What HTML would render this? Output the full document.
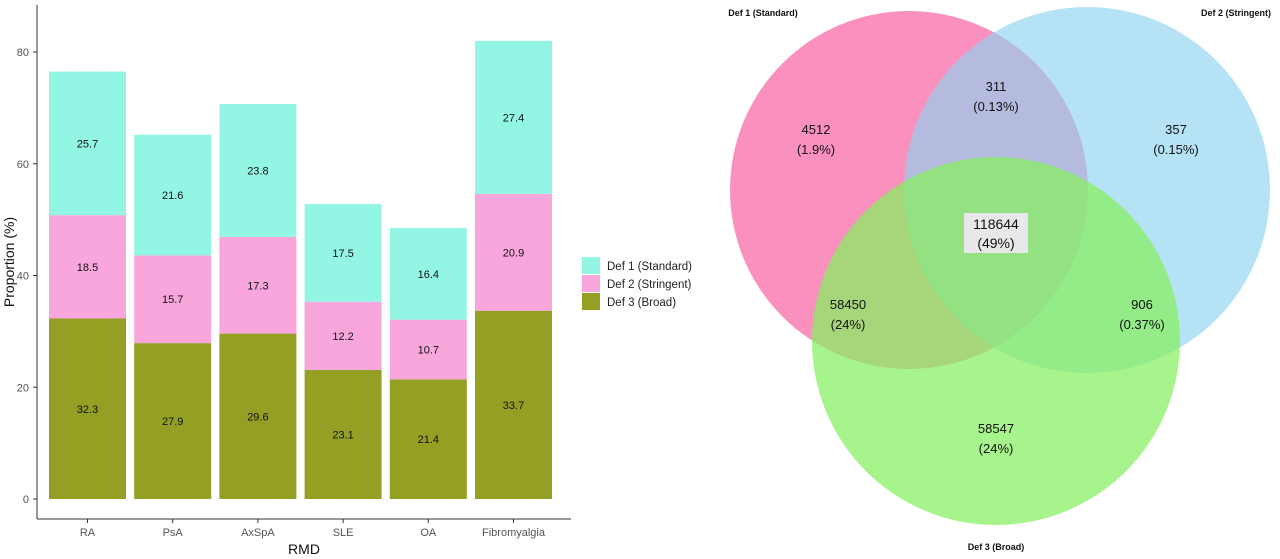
<!DOCTYPE html>
<html><head><meta charset="utf-8"><style>
body{margin:0;background:#fff;width:1280px;height:554px;overflow:hidden;font-family:"Liberation Sans",sans-serif}
</style></head><body>
<svg width="1280" height="554" viewBox="0 0 1280 554">
<g id="bar-chart"></g>
<g id="legend">
<rect x="582" y="257" width="18" height="17" fill="#93f5e4"/>
<rect x="582" y="275" width="18" height="17" fill="#f8a6dc"/>
<rect x="582" y="293" width="18" height="17" fill="#93a024"/>
<text x="607" y="270" font-size="11.5" fill="#222">Def 1 (Standard)</text>
<text x="607" y="288" font-size="11.5" fill="#222">Def 2 (Stringent)</text>
<text x="607" y="306" font-size="11.5" fill="#222">Def 3 (Broad)</text>
</g>
<g>
<circle cx="909" cy="190" r="179" fill="#f7559a" fill-opacity="0.65"/>
<circle cx="1087" cy="190" r="183" fill="#8fd2ef" fill-opacity="0.65"/>
<circle cx="996" cy="341" r="184" fill="#86f060" fill-opacity="0.72"/>
<g font-size="13" fill="#111" text-anchor="middle">
<text x="763" y="16" font-size="9" font-weight="bold">Def 1 (Standard)</text>
<text x="1236" y="16" font-size="9" font-weight="bold">Def 2 (Stringent)</text>
<text x="996" y="550" font-size="9" font-weight="bold">Def 3 (Broad)</text>
<text x="816" y="134">4512</text>
<text x="816" y="154">(1.9%)</text>
<text x="996" y="91">311</text>
<text x="996" y="111">(0.13%)</text>
<text x="1176" y="134">357</text>
<text x="1176" y="154">(0.15%)</text>
<rect x="964" y="213" width="64" height="40" fill="#e8e8e8"/>
<text x="996" y="229" font-size="14">118644</text>
<text x="996" y="248" font-size="14">(49%)</text>
<text x="848" y="309">58450</text>
<text x="848" y="329">(24%)</text>
<text x="1142" y="309">906</text>
<text x="1142" y="329">(0.37%)</text>
<text x="996" y="433">58547</text>
<text x="996" y="453">(24%)</text>
</g>
</g>
</svg>
<script>
const categories=["RA","PsA","AxSpA","SLE","OA","Fibromyalgia"];
const def3=[32.3,27.9,29.6,23.1,21.4,33.7];
const def2=[18.5,15.7,17.3,12.2,10.7,20.9];
const def1=[25.7,21.6,23.8,17.5,16.4,27.4];
const yTicks=[0,20,40,60,80];
const NS="http://www.w3.org/2000/svg";
const g=document.getElementById("bar-chart");
const y0=499,pxPer=(499-52)/80;
const yS=v=>y0-v*pxPer;
const xL=49,step=85.2,bw=77;
const xS=i=>xL+i*step;
function mk(t,a){const e=document.createElementNS(NS,t);for(const k in a)e.setAttribute(k,a[k]);g.appendChild(e);return e;}
let ax=mk("line",{x1:37,y1:5,x2:37,y2:519,stroke:"#333","stroke-width":1});


let bx=mk("line",{x1:37,y1:519,x2:571,y2:519,stroke:"#333","stroke-width":1});


yTicks.forEach(t=>{
 const tl=mk("text",{x:29,y:yS(t)+4,"font-size":11,fill:"#555","text-anchor":"end"});tl.textContent=t;
 
 
 const tk=mk("line",{x1:33,x2:37,y1:yS(t),y2:yS(t),stroke:"#333"});
 
 
});
const series=[[def3,"#93a024","def3"],[def2,"#f8a6dc","def2"],[def1,"#93f5e4","def1"]];
categories.forEach((c,i)=>{
 let base=0;
 series.forEach(([arr,col,nm])=>{
  const v=arr[i];
  const r=mk("rect",{x:xS(i),y:yS(base+v),width:bw,height:yS(base)-yS(base+v),fill:col});
  
  
  const lb=mk("text",{x:xS(i)+bw/2,y:yS(base+v/2)+4,"font-size":11,fill:"#111","text-anchor":"middle"});
  lb.textContent=v.toFixed(1);
  
  
  base+=v;
 });
 const xl=mk("text",{x:xS(i)+bw/2,y:536,"font-size":11,fill:"#555","text-anchor":"middle"});
 xl.textContent=c;
 
 
 const xt=mk("line",{x1:xS(i)+bw/2,x2:xS(i)+bw/2,y1:519,y2:523,stroke:"#333"});
 
 
});
const xt=mk("text",{x:304,y:554,"font-size":14,fill:"#111","text-anchor":"middle"});xt.textContent="RMD";


const yt=mk("text",{x:0,y:0,"font-size":14,fill:"#111","text-anchor":"middle",transform:"translate(14,262) rotate(-90)"});yt.textContent="Proportion (%)";


</script>
</body></html>
